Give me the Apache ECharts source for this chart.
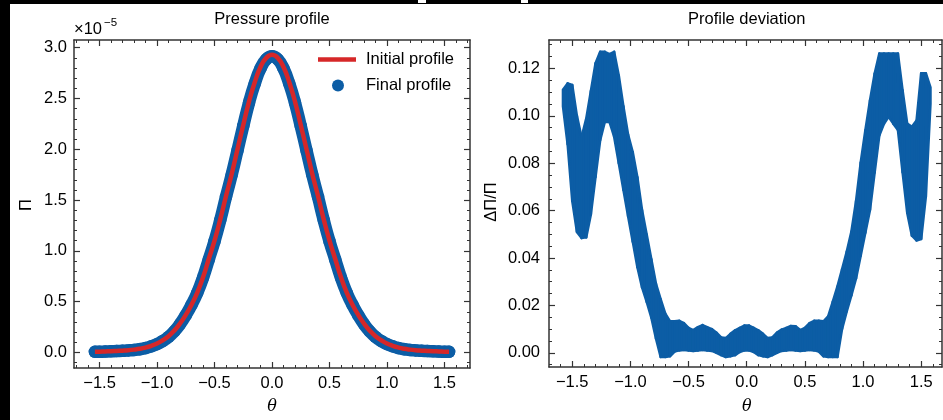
<!DOCTYPE html>
<html>
<head>
<meta charset="utf-8">
<script src="https://cdn.jsdelivr.net/npm/echarts@6/dist/echarts.min.js"></script>
<style>
html,body{margin:0;padding:0;background:#fff;}
#c{width:943px;height:420px;}
</style>
</head>
<body>
<div id="c"></div>
<script>
// ---------- data ----------
// Pressure profile: theta (rad) and Pi in units of 1e-5
const thetaP = [-1.54,-1.50,-1.45,-1.40,-1.35,-1.30,-1.25,-1.20,-1.15,-1.10,-1.05,-1.00,-0.95,-0.90,-0.85,-0.80,-0.75,-0.70,-0.65,-0.60,-0.55,-0.50,-0.45,-0.40,-0.35,-0.30,-0.25,-0.20,-0.15,-0.10,-0.05,0.00,0.05,0.10,0.15,0.20,0.25,0.30,0.35,0.40,0.45,0.50,0.55,0.60,0.65,0.70,0.75,0.80,0.85,0.90,0.95,1.00,1.05,1.10,1.15,1.20,1.25,1.30,1.35,1.40,1.45,1.50,1.54];
const initialPi = [0.007,0.008,0.010,0.012,0.015,0.018,0.022,0.028,0.036,0.048,0.065,0.088,0.120,0.160,0.215,0.285,0.370,0.470,0.590,0.740,0.920,1.100,1.310,1.540,1.760,2.000,2.240,2.470,2.660,2.810,2.900,2.930,2.900,2.810,2.660,2.470,2.240,2.000,1.760,1.540,1.310,1.100,0.920,0.740,0.590,0.470,0.370,0.285,0.215,0.160,0.120,0.088,0.065,0.048,0.036,0.028,0.022,0.018,0.015,0.012,0.010,0.008,0.007];
const finalPi = [0.006,0.007,0.009,0.011,0.014,0.016,0.020,0.025,0.032,0.043,0.060,0.082,0.113,0.153,0.208,0.279,0.367,0.468,0.587,0.736,0.915,1.095,1.303,1.532,1.751,1.990,2.229,2.458,2.647,2.796,2.886,2.915,2.886,2.796,2.647,2.458,2.229,1.990,1.751,1.532,1.303,1.095,0.915,0.736,0.587,0.468,0.367,0.279,0.208,0.153,0.113,0.082,0.060,0.043,0.032,0.025,0.020,0.016,0.014,0.011,0.009,0.007,0.006];

// Profile deviation: lower / upper envelope of the scattered points at each theta
const thetaDev = [-1.58,-1.54,-1.50,-1.46,-1.42,-1.38,-1.34,-1.30,-1.26,-1.22,-1.18,-1.14,-1.10,-1.06,-1.02,-0.98,-0.94,-0.90,-0.86,-0.82,-0.78,-0.74,-0.70,-0.66,-0.62,-0.58,-0.54,-0.50,-0.46,-0.42,-0.38,-0.34,-0.30,-0.26,-0.22,-0.18,-0.14,-0.10,-0.06,-0.02,0.02,0.06,0.10,0.14,0.18,0.22,0.26,0.30,0.34,0.38,0.42,0.46,0.50,0.54,0.58,0.62,0.66,0.70,0.74,0.78,0.82,0.86,0.90,0.94,0.98,1.02,1.06,1.10,1.14,1.18,1.22,1.26,1.30,1.34,1.38,1.42,1.46,1.50,1.54,1.58];
const devLow = [0.104,0.088,0.064,0.051,0.0484,0.0487,0.0584,0.0741,0.0897,0.0974,0.0974,0.0912,0.080,0.0687,0.0576,0.0469,0.0361,0.0276,0.0215,0.0148,0.0059,-0.0018,-0.0018,-0.0015,0.0005,0.0010,0.0012,0.0010,0.0008,0.0010,0.0012,0.0010,0.0008,0.0000,-0.0010,-0.0018,-0.0015,-0.0010,0.0003,0.0010,
                0.0010,0.0003,-0.0010,-0.0015,-0.0018,-0.0010,0.0000,0.0008,0.0010,0.0012,0.0010,0.0008,0.0010,0.0012,0.0010,0.0005,-0.0015,-0.0018,-0.0018,-0.0018,0.0101,0.0175,0.0242,0.0314,0.0410,0.0507,0.0603,0.0760,0.0917,0.0966,0.0996,0.0967,0.0940,0.0761,0.0590,0.0494,0.0474,0.0480,0.0658,0.1050];
const devHigh = [0.111,0.1137,0.113,0.100,0.091,0.0988,0.1105,0.1222,0.127,0.127,0.126,0.127,0.117,0.104,0.0921,0.0847,0.0741,0.0603,0.0499,0.0395,0.0291,0.0226,0.0165,0.0133,0.0133,0.0135,0.0125,0.0105,0.0096,0.0108,0.0117,0.0108,0.0100,0.0085,0.0065,0.0062,0.0080,0.0095,0.0105,0.0115,
                 0.0115,0.0105,0.0095,0.0080,0.0062,0.0065,0.0085,0.0098,0.0105,0.0113,0.0112,0.0096,0.0105,0.0125,0.0135,0.0135,0.0133,0.0154,0.0216,0.0280,0.0353,0.0427,0.0512,0.0641,0.0803,0.0939,0.1066,0.1179,0.1263,0.1263,0.1263,0.1263,0.1263,0.1108,0.0967,0.0954,0.0980,0.1180,0.1180,0.1120];

// tick labels
const thetaTicks = [-1.5,-1.0,-0.5,0.0,0.5,1.0,1.5];
const piTicks = [0.0,0.5,1.0,1.5,2.0,2.5,3.0];
const devTicks = [0.00,0.02,0.04,0.06,0.08,0.10,0.12];

// ---------- styling ----------
const FONT = '"Liberation Sans", Arial, Helvetica, sans-serif';
const FS = 16.5;
const BLUE = '#0C5DA5';
const RED = '#D62728';
const AXC = '#333333';

function minorList(step, kmin, kmax, every) {
  const out = [];
  for (let k = kmin; k <= kmax; k++) if (k % every !== 0) out.push(+(k * step).toFixed(6));
  return out;
}
const thetaMinor = minorList(0.1, -17, 17, 5);
const piMinor = minorList(0.1, -1, 30, 5);
const devMinor = minorList(0.005, -1, 26, 4);

function axes(gridIndex, min, max, pos, major, minor, label) {
  const base = {type: 'value', gridIndex, min, max, position: pos, splitLine: {show: false}, silent: true};
  const a = Object.assign({}, base, {
    axisLine: {show: true, onZero: false, lineStyle: {color: AXC, width: 1.5}},
    axisTick: {show: true, inside: true, length: 6, customValues: major, lineStyle: {color: AXC, width: 1.2}},
    axisLabel: label ? Object.assign({show: true, customValues: major, color: '#000', fontSize: FS, fontFamily: FONT}, label) : {show: false}
  });
  const b = Object.assign({}, base, {
    axisLine: {show: false, onZero: false},
    axisTick: {show: true, inside: true, length: 3, customValues: minor.filter(v => v > min && v < max), lineStyle: {color: AXC, width: 1}},
    axisLabel: {show: false}
  });
  return [a, b];
}
const fmtTheta = v => (v < 0 ? '\u2212' : '') + Math.abs(v).toFixed(1);

const XL = [-1.722, 1.722], XR = [-1.70, 1.679];
const YL = [-0.153, 3.076], YR = [-0.006, 0.132];

const xAxis = [].concat(
  axes(0, XL[0], XL[1], 'bottom', thetaTicks, thetaMinor, {formatter: fmtTheta, margin: 7}),
  axes(0, XL[0], XL[1], 'top', thetaTicks, thetaMinor, null),
  axes(1, XR[0], XR[1], 'bottom', thetaTicks, thetaMinor, {formatter: fmtTheta, margin: 7}),
  axes(1, XR[0], XR[1], 'top', thetaTicks, thetaMinor, null)
);
const yAxis = [].concat(
  axes(0, YL[0], YL[1], 'left', piTicks, piMinor, {formatter: v => v.toFixed(1), margin: 7}),
  axes(0, YL[0], YL[1], 'right', piTicks, piMinor, null),
  axes(1, YR[0], YR[1], 'left', devTicks, devMinor, {formatter: v => v.toFixed(2), margin: 9}),
  axes(1, YR[0], YR[1], 'right', devTicks, devMinor, null)
);

const devSegs = [];
for (let i = 0; i < thetaDev.length - 1; i++) {
  devSegs.push([thetaDev[i], devLow[i], devHigh[i], thetaDev[i + 1], devLow[i + 1], devHigh[i + 1]]);
}

function txt(x, y, text, font, extra) {
  return Object.assign({
    type: 'text', x, y, silent: true,
    style: {text, font, fill: '#000', align: 'center', verticalAlign: 'middle', textAlign: 'center', textVerticalAlign: 'middle'}
  }, extra || {});
}

const option = {
  animation: false,
  backgroundColor: '#fff',
  grid: [
    {left: 74, top: 40, width: 396, height: 328, containLabel: false},
    {left: 549, top: 40, width: 393, height: 327, containLabel: false}
  ],
  xAxis, yAxis,
  legend: [
    {data: ['Initial profile'], left: 318, top: 51, padding: 0, selectedMode: false, icon: 'rect',
     itemWidth: 38, itemHeight: 4.5, textStyle: {fontSize: FS, fontFamily: FONT, color: '#000', padding: [0, 0, 0, 5]}},
    {data: ['Final profile'], left: 332, top: 77, padding: 0, selectedMode: false, icon: 'circle',
     itemWidth: 12, itemHeight: 12, textStyle: {fontSize: FS, fontFamily: FONT, color: '#000', padding: [0, 0, 0, 17]}}
  ],
  series: [
    {
      name: 'Final profile', type: 'line', xAxisIndex: 0, yAxisIndex: 0,
      data: thetaP.map((t, i) => [t, finalPi[i]]),
      smooth: true, color: BLUE, showSymbol: true, symbol: 'circle', symbolSize: 12.5,
      itemStyle: {color: BLUE}, lineStyle: {color: BLUE, width: 12.5, cap: 'round', join: 'round'},
      z: 2, silent: true
    },
    {
      name: 'Initial profile', type: 'line', xAxisIndex: 0, yAxisIndex: 0,
      data: thetaP.map((t, i) => [t, initialPi[i]]),
      smooth: true, color: RED, showSymbol: false, symbol: 'none',
      itemStyle: {color: RED}, lineStyle: {color: RED, width: 4.5, cap: 'butt'},
      z: 3, silent: true
    },
    {
      name: 'Profile deviation', type: 'custom', xAxisIndex: 4, yAxisIndex: 4,
      data: devSegs, encode: {x: [0, 3], y: [1, 2, 4, 5]}, silent: true, clip: true,
      renderItem: function (params, api) {
        const a = api.coord([api.value(0), api.value(1)]);
        const b = api.coord([api.value(3), api.value(4)]);
        const c = api.coord([api.value(3), api.value(5)]);
        const d = api.coord([api.value(0), api.value(2)]);
        return {type: 'polygon', shape: {points: [a, b, c, d]},
                style: {fill: BLUE, stroke: BLUE, lineWidth: 2.5, lineJoin: 'round'}};
      }
    }
  ],
  graphic: [
    {type: 'rect', silent: true, shape: {x: 0, y: 0, width: 943, height: 4}, style: {fill: '#000'}},
    {type: 'rect', silent: true, shape: {x: 0, y: 0, width: 10, height: 420}, style: {fill: '#000'}},
    {type: 'rect', silent: true, shape: {x: 418, y: 0, width: 8, height: 3}, style: {fill: '#fff'}},
    {type: 'rect', silent: true, shape: {x: 521, y: 0, width: 7, height: 3}, style: {fill: '#fff'}},
    txt(272, 19.5, 'Pressure profile', FS + 'px ' + FONT),
    txt(746.7, 19.5, 'Profile deviation', FS + 'px ' + FONT),
    txt(272, 406.5, '\u03B8', 'italic 16px "DejaVu Serif", serif'),
    txt(746.7, 406.5, '\u03B8', 'italic 16px "DejaVu Serif", serif'),
    txt(26, 205, '\u03A0', FS + 'px ' + FONT, {rotation: Math.PI / 2}),
    txt(491, 202, '\u0394\u03A0/\u03A0', FS + 'px ' + FONT, {rotation: Math.PI / 2}),
    {type: 'text', x: 74, y: 29, silent: true,
     style: {text: '\u00D710', font: FS + 'px ' + FONT, fill: '#000', align: 'left', verticalAlign: 'middle', textAlign: 'left', textVerticalAlign: 'middle'}},
    {type: 'text', x: 104, y: 23, silent: true,
     style: {text: '\u22125', font: '11.5px ' + FONT, fill: '#000', align: 'left', verticalAlign: 'middle', textAlign: 'left', textVerticalAlign: 'middle'}}
  ]
};

const chart = echarts.init(document.getElementById('c'), null, {renderer: 'canvas'});
chart.setOption(option);
</script>
</body>
</html>
